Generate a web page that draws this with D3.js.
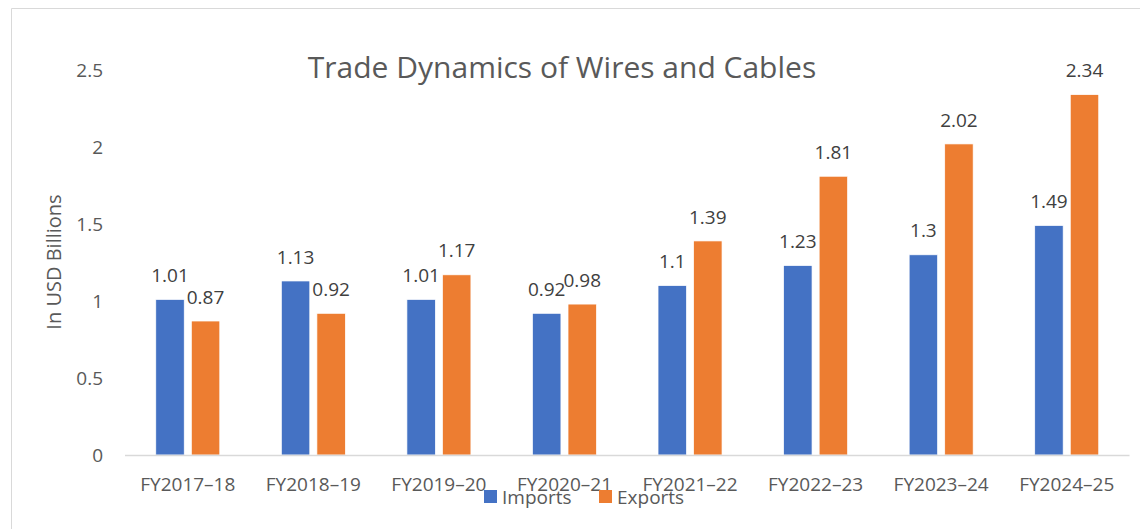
<!DOCTYPE html>
<meta charset="utf-8">
<head>
    <script src="https://d3js.org/d3.v7.min.js"></script>
    <style>
        body {
            margin: 0;
            background: #fff;
        }

        text {
            font-family: "Open Sans", "Noto Sans", sans-serif;
        }

        .tick-label {
            fill: #595959;
            font-size: 19px;
        }

        .bar-label {
            fill: #404040;
            font-size: 19px;
            text-anchor: middle;
        }
    </style>
    <title>Trade Dynamics of Wires and Cables</title>
</head>
<body>
<svg id="chart" width="1140" height="529"></svg>

<script>

    var categories = ["FY2017\u201318", "FY2018\u201319", "FY2019\u201320", "FY2020\u201321",
        "FY2021\u201322", "FY2022\u201323", "FY2023\u201324", "FY2024\u201325"];
    var seriesNames = ["Imports", "Exports"];
    var imports = [1.01, 1.13, 1.01, 0.92, 1.1, 1.23, 1.3, 1.49];
    var exports = [0.87, 0.92, 1.17, 0.98, 1.39, 1.81, 2.02, 2.34];
    var yTicks = [0, 0.5, 1, 1.5, 2, 2.5];

    var colors = {"Imports": "#4472C4", "Exports": "#ED7D31"};

    var svg = d3.select("#chart");

    // outer chart frame (Excel style)
    svg.append("path")
        .attr("d", "M11.5,529 L11.5,8.5 L1140,8.5")
        .attr("fill", "none")
        .attr("stroke", "#d9d9d9")
        .attr("stroke-width", 1);

    var x = d3.scaleBand()
        .domain(categories)
        .range([125, 1129.5]);

    var y = d3.scaleLinear()
        .domain([0, 2.5])
        .range([455, 70]);

    var rows = categories.map(function (c, i) {
        return {cat: c, values: [
            {name: "Imports", value: imports[i]},
            {name: "Exports", value: exports[i]}
        ]};
    });

    // title
    svg.append("text")
        .attr("x", 562)
        .attr("y", 78)
        .attr("text-anchor", "middle")
        .attr("fill", "#595959")
        .style("font-size", "30px")
        .text("Trade Dynamics of Wires and Cables");

    // y axis labels
    svg.selectAll(".ytick")
        .data(yTicks)
        .enter().append("text")
        .attr("class", "tick-label")
        .attr("x", 103)
        .attr("y", function (d) { return y(d); })
        .attr("dy", "0.35em")
        .attr("text-anchor", "end")
        .text(function (d) { return d; });

    svg.append("text")
        .attr("transform", "translate(61,262) rotate(-90)")
        .attr("text-anchor", "middle")
        .attr("fill", "#595959")
        .style("font-size", "20px")
        .text("In USD Billions");

    // bars
    var groups = svg.selectAll(".cat")
        .data(rows)
        .enter().append("g")
        .attr("class", "cat");

    groups.each(function (row) {
        var center = x(row.cat) + x.bandwidth() / 2;
        var inner = d3.scaleBand()
            .domain(seriesNames)
            .range([center - 32, center + 32])
            .paddingInner(0.2);

        var g = d3.select(this);

        g.selectAll("rect")
            .data(row.values)
            .enter().append("rect")
            .attr("x", function (d) { return inner(d.name); })
            .attr("y", function (d) { return y(d.value); })
            .attr("width", inner.bandwidth())
            .attr("height", function (d) { return y(0) - y(d.value); })
            .attr("fill", function (d) { return colors[d.name]; })
            .attr("stroke", "#fff")
            .attr("stroke-width", 0.7);

        g.selectAll(".bar-label")
            .data(row.values)
            .enter().append("text")
            .attr("class", "bar-label")
            .attr("x", function (d) { return inner(d.name) + inner.bandwidth() / 2; })
            .attr("y", function (d) { return y(d.value) - 24; })
            .attr("dy", "0.35em")
            .text(function (d) { return d.value; });
    });

    // baseline
    svg.append("line")
        .attr("x1", 125)
        .attr("x2", 1129.5)
        .attr("y1", y(0) + 0.5)
        .attr("y2", y(0) + 0.5)
        .attr("stroke", "#d9d9d9")
        .attr("stroke-width", 1.5);

    // category labels
    svg.selectAll(".xtick")
        .data(categories)
        .enter().append("text")
        .attr("class", "tick-label")
        .attr("x", function (d) { return x(d) + x.bandwidth() / 2; })
        .attr("y", 491)
        .attr("text-anchor", "middle")
        .text(function (d) { return d; });

    // legend
    var legendX = [484, 599];
    var legend = svg.selectAll(".legend")
        .data(seriesNames)
        .enter().append("g")
        .attr("class", "legend")
        .attr("transform", function (d, i) { return "translate(" + legendX[i] + ",490)"; });

    legend.append("rect")
        .attr("width", 13)
        .attr("height", 13)
        .attr("fill", function (d) { return colors[d]; });

    legend.append("text")
        .attr("class", "tick-label")
        .attr("x", 18)
        .attr("y", 14)
        .text(function (d) { return d; });

</script>
</body>
